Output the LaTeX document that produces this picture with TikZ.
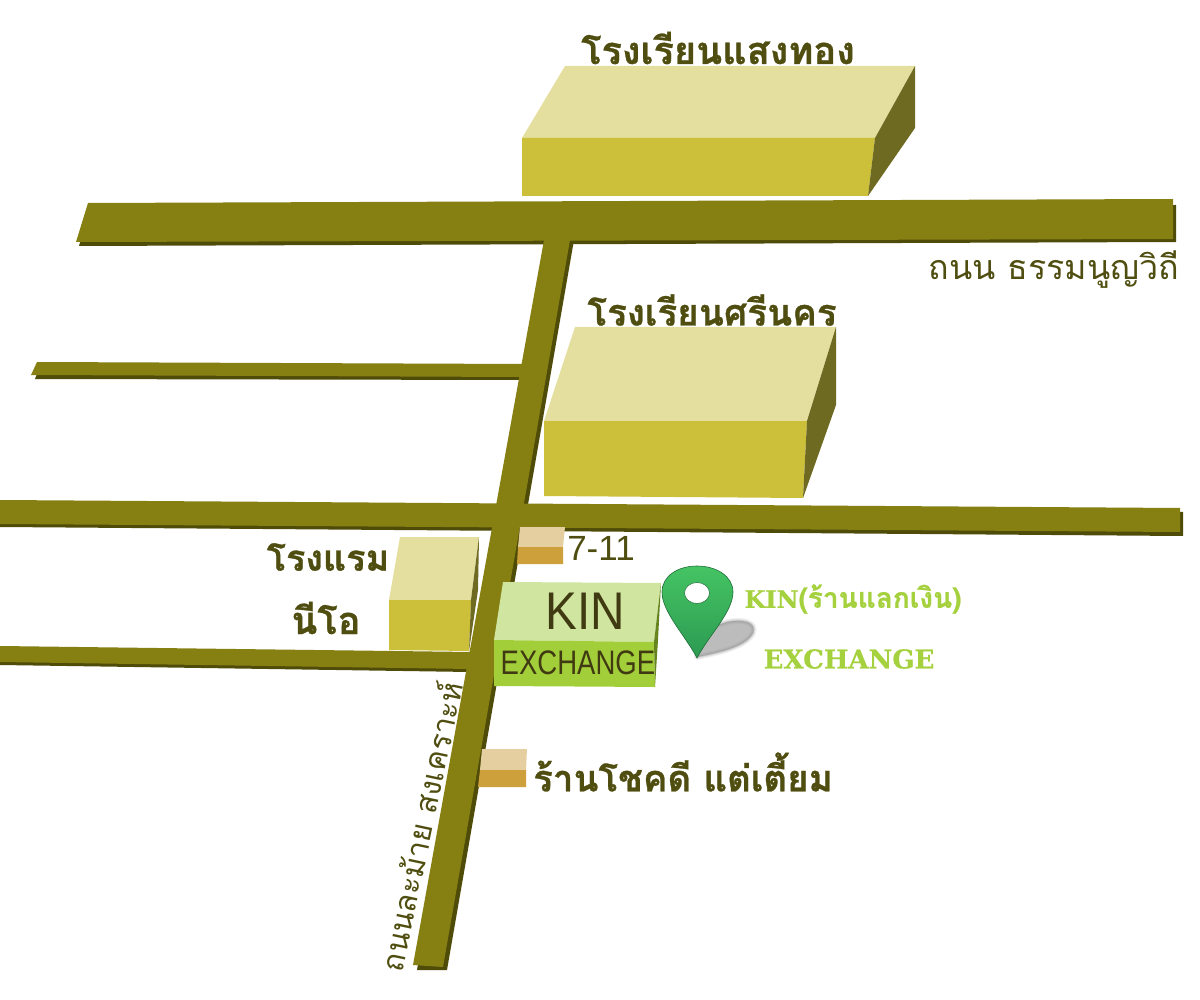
\documentclass[tikz,border=0pt]{standalone}
\usepackage{fontspec}
\newfontfamily\thaifont[Script=Thai,BoldFeatures={FakeBold=0.8}]{Loma}
\newfontfamily\slab[BoldFeatures={FakeBold=0.6}]{DejaVu Serif}
\newfontfamily\arial{Liberation Sans}
\definecolor{road}{HTML}{868013}
\definecolor{roadsh}{HTML}{4F4B08}
\definecolor{btop}{HTML}{E5DF9F}
\definecolor{bfront}{HTML}{CCC03B}
\definecolor{bside}{HTML}{6F6A22}
\definecolor{stop}{HTML}{E5CFA0}
\definecolor{sfront}{HTML}{CDA03B}
\definecolor{ktop}{HTML}{D0E6A0}
\definecolor{kfront}{HTML}{A2CE3A}
\definecolor{kside}{HTML}{66851F}
\definecolor{ink}{HTML}{4F4E10}
\definecolor{kink}{HTML}{403A12}
\definecolor{lime}{HTML}{A6D13F}
\definecolor{pintop}{HTML}{45C463}
\definecolor{pinbot}{HTML}{2C9A52}
\tikzset{
  thaibold/.style={font=\thaifont\bfseries\fontsize{38}{38}\selectfont,text=ink,inner sep=0pt},
  thaithin/.style={font=\thaifont\fontsize{34}{34}\selectfont,text=ink,inner sep=0pt},
  limetext/.style={font=\bfseries\fontsize{27}{27}\selectfont,text=lime,inner sep=0pt}
}
\begin{document}
\begin{tikzpicture}[x=1pt,y=-1pt]
\useasboundingbox (0,0) rectangle (1200,1000);
% road shadows
\fill[roadsh] (79,246) -- (1176,242) -- (1176,205) -- (90,207) -- cycle;
\fill[roadsh] (35,379) -- (523,380) -- (523,368) -- (40,366) -- cycle;
\fill[roadsh] (0,527) -- (1183,536) -- (1183,512) -- (0,505) -- cycle;
\fill[roadsh] (0,665) -- (470,672) -- (470,655) -- (0,650) -- cycle;
\fill[roadsh] (417,970) -- (447,970) -- (574,240) -- (548,240) -- cycle;
% roads
\fill[road] (88,203) -- (1173,199) -- (1173,239) -- (76,242) -- cycle;
\fill[road] (37,362) -- (525,364) -- (523,377) -- (31,375) -- cycle;
\fill[road] (0,500) -- (1180,508) -- (1180,532) -- (0,524) -- cycle;
\fill[road] (0,646) -- (472,652) -- (470,669) -- (0,662) -- cycle;
\fill[road] (413,965) -- (443,967) -- (570,240) -- (544,240) -- cycle;
% top school
\fill[btop] (565,66) -- (915,66) -- (875,138) -- (522,138) -- cycle;
\fill[bfront] (522,138) -- (875,138) -- (868,196) -- (522,196) -- cycle;
\fill[bside] (915,66) -- (915,128) -- (868,196) -- (875,138) -- cycle;
% second school
\fill[btop] (575,327) -- (836,327) -- (807,421) -- (544,421) -- cycle;
\fill[bfront] (544,421) -- (807,421) -- (803,498) -- (544,496) -- cycle;
\fill[bside] (836,327) -- (836,405) -- (803,498) -- (807,421) -- cycle;
% hotel
\fill[btop] (400,537) -- (479,537) -- (471,600) -- (389,600) -- cycle;
\fill[bfront] (389,600) -- (471,600) -- (469,651) -- (389,650) -- cycle;
\fill[bside] (479,537) -- (478,590) -- (469,651) -- (471,600) -- cycle;
% 7-11
\fill[stop] (520,527) -- (565,527) -- (563,547) -- (518,547) -- cycle;
\fill[sfront] (518,547) -- (563,547) -- (563,564) -- (517,564) -- cycle;
% shop
\fill[stop] (482,749) -- (527,749) -- (526,770) -- (480,770) -- cycle;
\fill[sfront] (480,770) -- (526,770) -- (526,787) -- (478,787) -- cycle;
% KIN box
\fill[ktop] (503,582) -- (661,583) -- (654,642) -- (494,640) -- cycle;
\fill[kfront] (494,640) -- (654,642) -- (655,687) -- (494,686) -- cycle;
\fill[kside] (661,583) -- (658,640) -- (655,687) -- (654,642) -- cycle;
% pin shadow
\foreach \w/\o in {6/.12,4/.18,2/.25,0.5/.3}{
\filldraw[gray!85,line width=\w pt,line join=round,opacity=\o]
  (697,657) .. controls (715,653) and (745,648) .. (753,633)
  .. controls (757,622) and (742,619) .. (728,622) -- (700,630) -- cycle;
}
% pin
\path[draw=pinbot!70!black,line width=0.6pt,top color=pintop,bottom color=pinbot]
  (697,658) .. controls (685,635) and (662,612) .. (662,592)
  .. controls (662,576) and (678,566) .. (697,566)
  .. controls (716,566) and (733,576) .. (733,592)
  .. controls (733,612) and (709,635) .. (697,658) -- cycle;
\fill[white,draw=pinbot!70!black,line width=0.5pt] (697,593) ellipse (12.5 and 10.5);
% labels
\node[thaibold] (school1) at (718,48) {โรงเรียนแสงทอง};
\node[thaibold,font=\thaifont\bfseries\fontsize{36.8}{37}\selectfont] (school2) at (712,310) {โรงเรียนศรีนคร};
\node[thaibold,font=\thaifont\bfseries\fontsize{36}{36}\selectfont] (hotel1) at (328,557) {โรงแรม};
\node[thaibold] (hotel2) at (326,618) {นีโอ};
\node[thaibold,font=\thaifont\bfseries\fontsize{36.6}{37}\selectfont] (shop) at (683,772) {ร้านโชคดี แต่เตี้ยม};
\node[thaithin] (road1) at (1054,270) {ถนน ธรรมนูญวิถี};
\node[thaithin,font=\thaifont\fontsize{30.5}{31}\selectfont,rotate=78] (road2) at (420,826) {ถนนละม้าย สงเคราะห์};
\node[font=\arial\fontsize{35}{35}\selectfont,text=ink,inner sep=0pt] (seven) at (601,548) {7-11};
\node[font=\arial\fontsize{53}{53}\selectfont,text=kink,inner sep=0pt,xscale=.9] (kin) at (585,611) {KIN};
\node[font=\arial\fontsize{34}{34}\selectfont,text=kink,inner sep=0pt,xscale=.81] (exch) at (578,663) {EXCHANGE};
\node[limetext] (lbl1) at (853,599) {{\slab\fontsize{24}{24}\selectfont KIN}{\thaifont\fontsize{28}{28}\selectfont(ร้านแลกเงิน)}};
\node[limetext,font=\slab\bfseries\fontsize{26}{26}\selectfont] (lbl2) at (849,659) {EXCHANGE};
\end{tikzpicture}
\end{document}
